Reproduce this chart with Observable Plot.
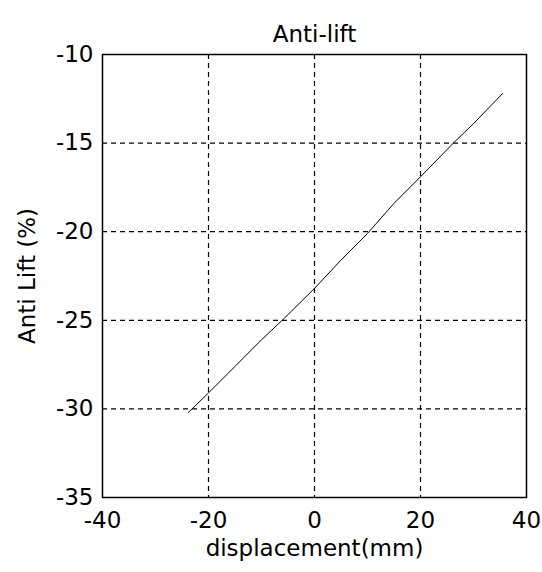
<!DOCTYPE html>
<html>
<head>
<meta charset="utf-8">
<script src="https://cdn.jsdelivr.net/npm/d3@7"></script>
<script src="https://cdn.jsdelivr.net/npm/@observablehq/plot@0.6"></script>
<style>
  html, body { margin: 0; padding: 0; background: #fff; }
  svg text { font-family: "DejaVu Sans", sans-serif; }
</style>
</head>
<body>
<div id="chart"></div>
<script>
const title = "Anti-lift";
const xLabel = "displacement(mm)";
const yLabel = "Anti Lift (%)";
const xTicks = [-40, -20, 0, 20, 40];
const yTicks = [-35, -30, -25, -20, -15, -10];
const displacement = [-23.8, -20, -15, -10, -6.1, 0, 5, 10, 15, 20, 26.2, 30, 35.5];
const antiLift = [-30.2, -29.1, -27.6, -26.1, -25.0, -23.2, -21.6, -20.1, -18.4, -16.9, -15.0, -13.9, -12.2];

const data = displacement.map((x, i) => ({x, y: antiLift[i]}));
const fmt = d => String(d);
const fs = 23;

const chart = Plot.plot({
  width: 542,
  height: 572,
  marginTop: 54,
  marginRight: 16,
  marginBottom: 75,
  marginLeft: 102,
  style: {fontSize: fs + "px", fontFamily: "DejaVu Sans, sans-serif", color: "#000", background: "#fff"},
  x: {domain: [-40, 40]},
  y: {domain: [-35, -10]},
  marks: [
    Plot.gridX(xTicks.slice(1, -1), {stroke: "#000", strokeOpacity: 1, strokeWidth: 1.2, strokeDasharray: "5,4"}),
    Plot.gridY(yTicks.slice(1, -1), {stroke: "#000", strokeOpacity: 1, strokeWidth: 1.2, strokeDasharray: "5,4"}),
    Plot.frame({stroke: "#000", strokeWidth: 1.5}),
    Plot.line(data, {x: "x", y: "y", stroke: "#000", strokeWidth: 1}),
    Plot.axisX({ticks: xTicks, tickFormat: fmt, tickSize: 0, tickPadding: 14, label: null, fontSize: fs}),
    Plot.axisY({ticks: yTicks, tickFormat: fmt, tickSize: 0, tickPadding: 9, label: null, fontSize: fs}),
    Plot.text([title], {frameAnchor: "top", dy: -28.5, fontSize: fs}),
    Plot.text([xLabel], {frameAnchor: "bottom", dy: 58, fontSize: fs}),
    Plot.text([yLabel], {frameAnchor: "left", textAnchor: "middle", dx: -75, rotate: -90, fontSize: fs})
  ]
});
document.getElementById("chart").append(chart);
</script>
</body>
</html>
